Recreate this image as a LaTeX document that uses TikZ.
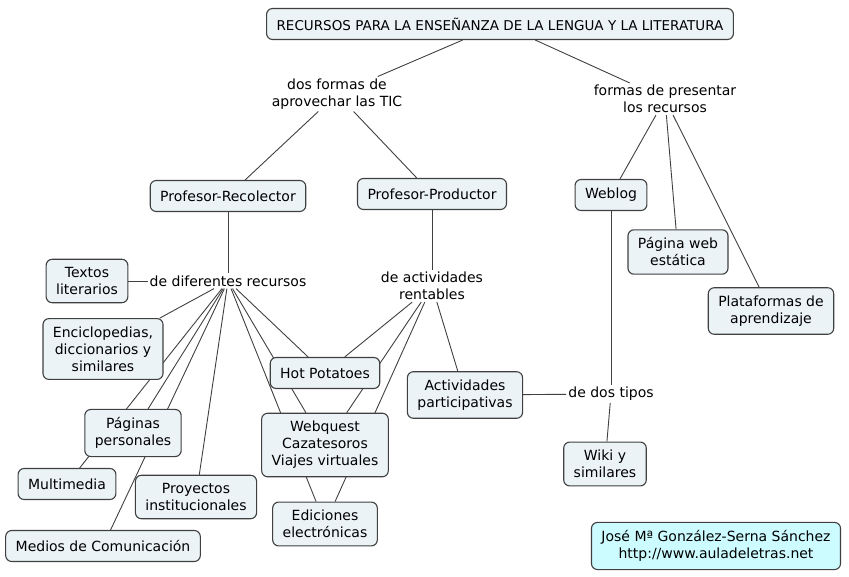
\documentclass[tikz,border=0pt]{standalone}
\usepackage{fontspec}
\setmainfont{DejaVu Sans}
\usepackage{tikz}
\usetikzlibrary{
  positioning,
  backgrounds
}
\definecolor{ConceptFill}{RGB}{235,243,247}
\definecolor{ConceptLine}{RGB}{64,64,64}
\definecolor{AuthorFill}{RGB}{204,252,255}
\tikzset{
  cbox/.style={
    draw=ConceptLine,
    fill=ConceptFill,
    rounded corners=6pt,
    line width=1.1pt,
    minimum height=31pt,
    align=center,
    font=\fontsize{14}{17}\selectfont,
    inner xsep=10pt,
    inner ysep=8pt
  },
  authorbox/.style={cbox,fill=AuthorFill},
  phrase/.style={align=center,font=\fontsize{14}{17}\selectfont,inner sep=2pt},
  linkline/.style={draw=ConceptLine,line width=0.9pt}
}

\begin{document}
\begin{tikzpicture}[on grid]
  \useasboundingbox (0,0) rectangle (849pt,-577pt);
  % Main concept and its two branches
  \node[cbox, font=\fontsize{13.5}{17}\selectfont] (title) at (500pt,-24pt) {RECURSOS PARA LA ENSEÑANZA DE LA LENGUA Y LA LITERATURA};
  \node[phrase, below left=70pt and 163pt of title] (dos) {dos formas de\\aprovechar las TIC};
  \node[phrase, below right=75pt and 165pt of title] (pres) {formas de presentar\\los recursos};

  \node[cbox, below left=102pt and 109pt of dos] (recol) {Profesor-Recolector};
  \node[cbox, below right=100pt and 95pt of dos] (prod) {Profesor-Productor};
  \node[cbox, below left=96pt and 54pt of pres] (weblog) {Weblog};
  \node[cbox, below right=153pt and 13pt of pres] (pagweb) {Página web\\estática};
  \node[cbox, below right=212pt and 106pt of pres] (plat) {Plataformas de\\aprendizaje};

  % Profesor-Recolector side
  \node[phrase, below=85pt of recol] (dif) {de diferentes recursos};
  \node[cbox, left=141pt of dif] (textos) {Textos\\literarios};
  \node[cbox, below left=68pt and 125pt of dif] (encic) {Enciclopedias,\\diccionarios y\\similares};
  \node[cbox, below left=152pt and 95pt of dif] (pagper) {Páginas\\personales};
  \node[cbox, below left=203pt and 161pt of dif] (multi) {Multimedia};
  \node[cbox, below left=265pt and 125pt of dif] (medios) {Medios de Comunicación};
  \node[cbox, below left=216pt and 32pt of dif] (proy) {Proyectos\\institucionales};
  \node[cbox, below right=92pt and 97pt of dif] (hotpot) {Hot Potatoes};
  \node[cbox, below=72pt of hotpot] (webq) {Webquest\\Cazatesoros\\Viajes virtuales};
  \node[cbox, below=79pt of webq] (edic) {Ediciones\\electrónicas};

  % Profesor-Productor and Weblog side
  \node[phrase, below=92pt of prod] (rent) {de actividades\\rentables};
  \node[cbox, below right=109pt and 33pt of rent] (activ) {Actividades\\participativas};
  \node[phrase, below=199pt of weblog] (tipos) {de dos tipos};
  \node[cbox, below left=70pt and 6pt of tipos] (wiki) {Wiki y\\similares};

  \node[authorbox, below right=82pt and 111pt of wiki] (author) {José Mª González-Serna Sánchez\\http://www.auladeletras.net};

  \begin{scope}[on background layer]
    \draw[linkline] (title) -- (dos);
    \draw[linkline] (title) -- (pres);
    \draw[linkline] (dos) -- (recol);
    \draw[linkline] (dos) -- (prod);
    \draw[linkline] (pres) -- (weblog);
    \draw[linkline] (pres) -- (pagweb);
    \draw[linkline] (pres) -- (plat);

    \draw[linkline] (recol) -- (dif);
    \draw[linkline] (dif) -- (textos);
    \draw[linkline] (dif) -- (encic);
    \draw[linkline] (dif) -- (pagper);
    \draw[linkline] (dif) -- (multi);
    \draw[linkline] (dif) -- (medios);
    \draw[linkline] (dif) -- (proy);
    \draw[linkline] (dif) -- (hotpot);
    \draw[linkline] (dif) -- (webq);
    \draw[linkline] (dif) -- (edic);

    \draw[linkline] (prod) -- (rent);
    \draw[linkline] (rent) -- (hotpot);
    \draw[linkline] (rent) -- (webq);
    \draw[linkline] (rent) -- (edic);
    \draw[linkline] (rent) -- (activ);

    \draw[linkline] (weblog) -- (tipos);
    \draw[linkline] (tipos) -- (activ);
    \draw[linkline] (tipos) -- (wiki);
  \end{scope}
\end{tikzpicture}
\end{document}
